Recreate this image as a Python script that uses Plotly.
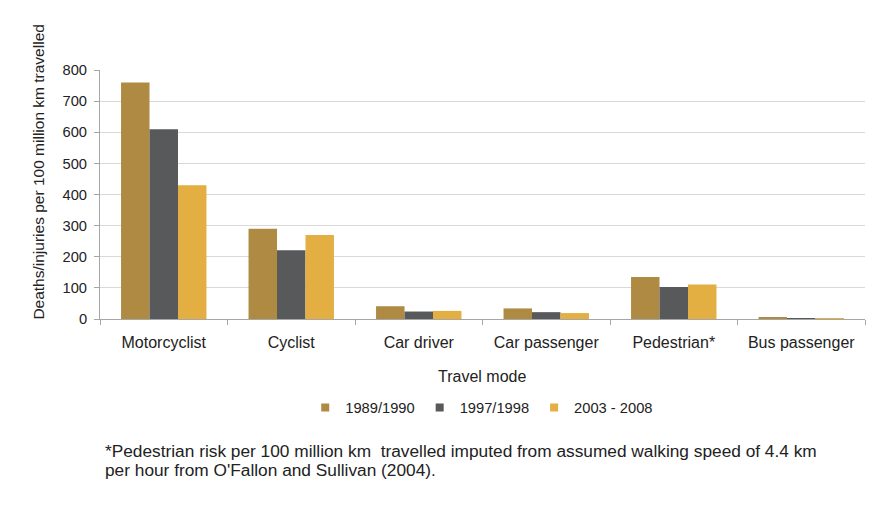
import plotly.graph_objects as go

categories = ["Motorcyclist", "Cyclist", "Car driver", "Car passenger", "Pedestrian*", "Bus passenger"]
series_names = ["1989/1990", "1997/1998", "2003 - 2008"]
v_1989 = [760, 290, 41, 34, 135, 5]
v_1997 = [610, 221, 24, 22, 103, 1]
v_2003 = [430, 270, 26, 19, 111, 2]
colors = ["#AF8A42", "#58595B", "#E3AE42"]
y_ticks = [0, 100, 200, 300, 400, 500, 600, 700, 800]
footnote_lines = [
    "*Pedestrian risk per 100 million km  travelled imputed from assumed walking speed of 4.4 km",
    "per hour from O'Fallon and Sullivan (2004).",
]

fig = go.Figure()
for name, vals, c in zip(series_names, [v_1989, v_1997, v_2003], colors):
    fig.add_trace(go.Bar(x=categories, y=vals, name=name, showlegend=False,
                         marker=dict(color=c, line=dict(width=0))))
# legend entries with small square swatches
for name, c in zip(series_names, colors):
    fig.add_trace(go.Scatter(x=[None], y=[None], mode="markers", name=name,
                             marker=dict(symbol="square", size=8, color=c)))

font = "Liberation Sans, Arial, sans-serif"
fig.update_layout(
    width=895, height=511,
    margin=dict(l=92, r=38, t=62, b=200),
    paper_bgcolor="white", plot_bgcolor="white",
    barmode="group", bargap=0.33, bargroupgap=0,
    font=dict(family=font, size=15, color="#222222"),
    showlegend=True,
    legend=dict(orientation="h", x=0.499, xanchor="center", y=-0.357, yanchor="middle",
                font=dict(size=14.7), itemwidth=30, traceorder="normal"),
    xaxis=dict(showline=True, linecolor="#A6A6A6", linewidth=1, ticks="outside",
               ticklen=5, tickcolor="#A6A6A6", tickson="boundaries",
               tickfont=dict(size=16), showgrid=False, ticklabelstandoff=9),
    yaxis=dict(range=[0, 800], tickvals=y_ticks, showline=True, linecolor="#A6A6A6",
               linewidth=1, ticks="outside", ticklen=5, tickcolor="#A6A6A6",
               gridcolor="#D9D9D9", gridwidth=1, tickfont=dict(size=14.7), zeroline=False,
               ticklabelstandoff=4),
)
fig.add_annotation(text="Travel mode", xref="paper", yref="paper", x=0.4987, y=-0.229,
                   showarrow=False, font=dict(size=16), xanchor="center", yanchor="middle")
fig.add_annotation(text="Deaths/injuries per 100 million km travelled", xref="paper", yref="paper",
                   x=-0.0797, y=0.592, textangle=-90, showarrow=False, font=dict(size=15.5),
                   xanchor="center", yanchor="middle")
for line, yv in zip(footnote_lines, [-0.531, -0.605]):
    fig.add_annotation(text=line, xref="paper", yref="paper", x=0.0039, y=yv,
                       xanchor="left", yanchor="middle", align="left", showarrow=False,
                       font=dict(size=17.3))
fig.write_html("out.html")
